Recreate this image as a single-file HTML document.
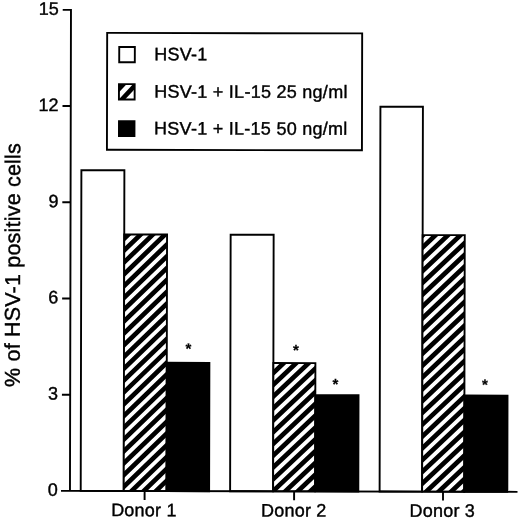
<!DOCTYPE html>
<html><head><meta charset="utf-8"><title>HSV-1 positive cells</title>
<style>
html,body{margin:0;padding:0;background:#fff;}
body{width:520px;height:520px;overflow:hidden;}
svg{display:block;filter:blur(0.35px);}
text{font-family:"Liberation Sans",sans-serif;fill:#000;stroke:#000;stroke-width:0.4px;}
.t{font-size:18px;}
.lg{letter-spacing:0.27px;}
.dn{letter-spacing:0.2px;}
.yl{font-size:21.5px;letter-spacing:0.2px;}
.st{font-size:15px;font-weight:bold;stroke-width:0.2px;}
.tk{font-size:18px;}
</style></head><body>
<svg width="520" height="520" viewBox="0 0 520 520">
<defs>
<clipPath id="c0"><rect x="124.20" y="234.74" width="42.80" height="256.56"/></clipPath>
<clipPath id="c1"><rect x="273.60" y="363.02" width="42.00" height="128.28"/></clipPath>
<clipPath id="c2"><rect x="422.60" y="234.74" width="42.10" height="256.56"/></clipPath>
<clipPath id="sw2"><rect x="118.6" y="84.4" width="15.7" height="15.4"/></clipPath>
</defs>
<rect width="520" height="520" fill="#fff"/>
<g transform="rotate(0.12 260 260)">
<rect x="81.20" y="170.60" width="43.00" height="320.70" fill="#fff" stroke="#000" stroke-width="1.9"/>
<rect x="124.20" y="234.74" width="42.80" height="256.56" fill="#fff"/>
<path clip-path="url(#c0)" fill="#000" d="M121.20 226.70L170.00 179.36V185.86L121.20 233.20ZM121.20 238.52L170.00 191.18V197.68L121.20 245.02ZM121.20 250.34L170.00 203.00V209.50L121.20 256.84ZM121.20 262.16L170.00 214.82V221.32L121.20 268.66ZM121.20 273.98L170.00 226.64V233.14L121.20 280.48ZM121.20 285.80L170.00 238.46V244.96L121.20 292.30ZM121.20 297.62L170.00 250.28V256.78L121.20 304.12ZM121.20 309.44L170.00 262.10V268.60L121.20 315.94ZM121.20 321.26L170.00 273.92V280.42L121.20 327.76ZM121.20 333.08L170.00 285.74V292.24L121.20 339.58ZM121.20 344.90L170.00 297.56V304.06L121.20 351.40ZM121.20 356.72L170.00 309.38V315.88L121.20 363.22ZM121.20 368.54L170.00 321.20V327.70L121.20 375.04ZM121.20 380.36L170.00 333.02V339.52L121.20 386.86ZM121.20 392.18L170.00 344.84V351.34L121.20 398.68ZM121.20 404.00L170.00 356.66V363.16L121.20 410.50ZM121.20 415.82L170.00 368.48V374.98L121.20 422.32ZM121.20 427.64L170.00 380.30V386.80L121.20 434.14ZM121.20 439.46L170.00 392.12V398.62L121.20 445.96ZM121.20 451.28L170.00 403.94V410.44L121.20 457.78ZM121.20 463.10L170.00 415.76V422.26L121.20 469.60ZM121.20 474.92L170.00 427.58V434.08L121.20 481.42ZM121.20 486.74L170.00 439.40V445.90L121.20 493.24ZM121.20 498.56L170.00 451.22V457.72L121.20 505.06ZM121.20 510.38L170.00 463.04V469.54L121.20 516.88ZM121.20 522.20L170.00 474.86V481.36L121.20 528.70ZM121.20 534.02L170.00 486.68V493.18L121.20 540.52Z"/>
<rect x="124.20" y="234.74" width="42.80" height="256.56" fill="none" stroke="#000" stroke-width="1.9"/>
<rect x="167.00" y="363.02" width="42.60" height="128.28" fill="#000" stroke="#000" stroke-width="1.9"/>
<rect x="230.60" y="234.74" width="43.00" height="256.56" fill="#fff" stroke="#000" stroke-width="1.9"/>
<rect x="273.60" y="363.02" width="42.00" height="128.28" fill="#fff"/>
<path clip-path="url(#c1)" fill="#000" d="M270.60 360.61L318.60 315.01V321.51L270.60 367.11ZM270.60 372.43L318.60 326.83V333.33L270.60 378.93ZM270.60 384.25L318.60 338.65V345.15L270.60 390.75ZM270.60 396.07L318.60 350.47V356.97L270.60 402.57ZM270.60 407.89L318.60 362.29V368.79L270.60 414.39ZM270.60 419.71L318.60 374.11V380.61L270.60 426.21ZM270.60 431.53L318.60 385.93V392.43L270.60 438.03ZM270.60 443.35L318.60 397.75V404.25L270.60 449.85ZM270.60 455.17L318.60 409.57V416.07L270.60 461.67ZM270.60 466.99L318.60 421.39V427.89L270.60 473.49ZM270.60 478.81L318.60 433.21V439.71L270.60 485.31ZM270.60 490.63L318.60 445.03V451.53L270.60 497.13ZM270.60 502.45L318.60 456.85V463.35L270.60 508.95ZM270.60 514.27L318.60 468.67V475.17L270.60 520.77ZM270.60 526.09L318.60 480.49V486.99L270.60 532.59ZM270.60 537.91L318.60 492.31V498.81L270.60 544.41Z"/>
<rect x="273.60" y="363.02" width="42.00" height="128.28" fill="none" stroke="#000" stroke-width="1.9"/>
<rect x="315.60" y="395.09" width="43.20" height="96.21" fill="#000" stroke="#000" stroke-width="1.9"/>
<rect x="380.10" y="106.46" width="42.50" height="384.84" fill="#fff" stroke="#000" stroke-width="1.9"/>
<rect x="422.60" y="234.74" width="42.10" height="256.56" fill="#fff"/>
<path clip-path="url(#c2)" fill="#000" d="M419.60 234.77L467.70 189.07V195.57L419.60 241.27ZM419.60 246.59L467.70 200.89V207.39L419.60 253.09ZM419.60 258.41L467.70 212.72V219.22L419.60 264.91ZM419.60 270.23L467.70 224.54V231.04L419.60 276.73ZM419.60 282.05L467.70 236.36V242.86L419.60 288.55ZM419.60 293.87L467.70 248.18V254.68L419.60 300.37ZM419.60 305.69L467.70 260.00V266.50L419.60 312.19ZM419.60 317.51L467.70 271.81V278.31L419.60 324.01ZM419.60 329.33L467.70 283.64V290.14L419.60 335.83ZM419.60 341.15L467.70 295.45V301.95L419.60 347.65ZM419.60 352.97L467.70 307.28V313.78L419.60 359.47ZM419.60 364.79L467.70 319.10V325.60L419.60 371.29ZM419.60 376.61L467.70 330.92V337.42L419.60 383.11ZM419.60 388.43L467.70 342.74V349.24L419.60 394.93ZM419.60 400.25L467.70 354.56V361.06L419.60 406.75ZM419.60 412.07L467.70 366.38V372.88L419.60 418.57ZM419.60 423.89L467.70 378.19V384.69L419.60 430.39ZM419.60 435.71L467.70 390.02V396.52L419.60 442.21ZM419.60 447.53L467.70 401.83V408.33L419.60 454.03ZM419.60 459.35L467.70 413.66V420.16L419.60 465.85ZM419.60 471.17L467.70 425.48V431.98L419.60 477.67ZM419.60 482.99L467.70 437.30V443.80L419.60 489.49ZM419.60 494.81L467.70 449.12V455.62L419.60 501.31ZM419.60 506.63L467.70 460.94V467.44L419.60 513.13ZM419.60 518.45L467.70 472.76V479.26L419.60 524.95ZM419.60 530.27L467.70 484.57V491.07L419.60 536.77Z"/>
<rect x="422.60" y="234.74" width="42.10" height="256.56" fill="none" stroke="#000" stroke-width="1.9"/>
<rect x="464.70" y="395.09" width="43.10" height="96.21" fill="#000" stroke="#000" stroke-width="1.9"/>
<path d="M62.2 10.25H70.45V491.3" fill="none" stroke="#000" stroke-width="1.9"/>
<path d="M61.5 491.3H518" fill="none" stroke="#000" stroke-width="1.9"/>
<path d="M62.2 395.09H70.45" stroke="#000" stroke-width="1.9"/>
<path d="M62.2 298.88H70.45" stroke="#000" stroke-width="1.9"/>
<path d="M62.2 202.67H70.45" stroke="#000" stroke-width="1.9"/>
<path d="M62.2 106.46H70.45" stroke="#000" stroke-width="1.9"/>
<path d="M145.1 491.3V500.2" stroke="#000" stroke-width="1.9"/>
<path d="M294.6 491.3V500.2" stroke="#000" stroke-width="1.9"/>
<path d="M443.5 491.3V500.2" stroke="#000" stroke-width="1.9"/>
<text class="tk" x="58.3" y="496.2" text-anchor="end">0</text>
<text class="tk" x="58.3" y="400.0" text-anchor="end">3</text>
<text class="tk" x="58.3" y="303.8" text-anchor="end">6</text>
<text class="tk" x="58.3" y="207.6" text-anchor="end">9</text>
<text class="tk" x="58.3" y="111.4" text-anchor="end">12</text>
<text class="tk" x="58.3" y="15.2" text-anchor="end">15</text>
<text class="t dn" x="111.7" y="516.4">Donor 1</text>
<text class="t dn" x="261.6" y="516.4">Donor 2</text>
<text class="t dn" x="410.1" y="516.4">Donor 3</text>
<text class="yl" transform="translate(20.0 387.5) rotate(-90)">% of HSV-1 positive cells</text>
<rect x="106.7" y="33.2" width="255.0" height="116.9" fill="#fff" stroke="#000" stroke-width="1.9"/>
<rect x="118.8" y="47.3" width="15.6" height="15.2" fill="#fff" stroke="#000" stroke-width="1.9"/>
<rect x="118.6" y="84.4" width="15.7" height="15.4" fill="#fff"/>
<polygon points="118,83 127.6,83 118,93.2" fill="#000" clip-path="url(#sw2)"/>
<polygon points="117.26,101 134.87,82 141.15,82 123.55,101" fill="#000" clip-path="url(#sw2)"/>
<rect x="118.6" y="84.4" width="15.7" height="15.4" fill="none" stroke="#000" stroke-width="1.9"/>
<rect x="118.7" y="121.4" width="15.5" height="15.0" fill="#000" stroke="#000" stroke-width="1.9"/>
<text class="t lg" x="153.8" y="60.5">HSV-1</text>
<text class="t lg" x="153.8" y="97.8">HSV-1 + IL-15 25 ng/ml</text>
<text class="t lg" x="153.8" y="134.6">HSV-1 + IL-15 50 ng/ml</text>
<text class="st" x="188.7" y="353.9" text-anchor="middle">*</text>
<text class="st" x="296.2" y="355.2" text-anchor="middle">*</text>
<text class="st" x="335.8" y="389.2" text-anchor="middle">*</text>
<text class="st" x="485.3" y="389.3" text-anchor="middle">*</text>
</g>
</svg></body></html>
